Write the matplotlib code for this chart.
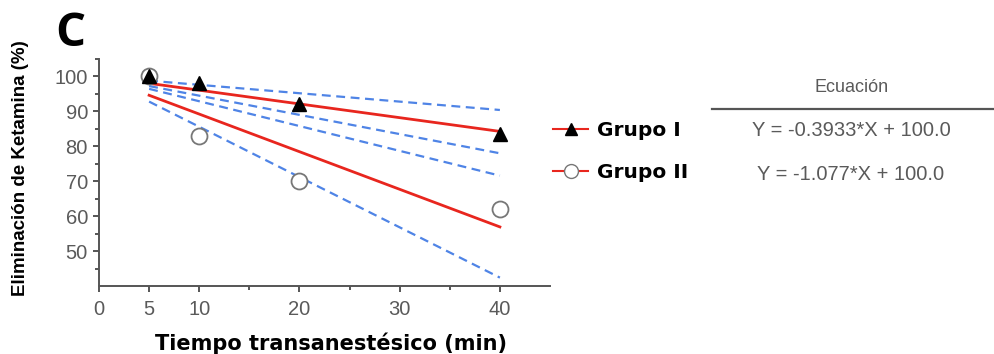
import numpy as np
import matplotlib.pyplot as plt
from matplotlib.lines import Line2D

# Datos medidos
tiempo = [5, 10, 20, 40]
grupo1 = [100, 98, 92, 83.5]
grupo2 = [100, 83, 70, 62]

# Ajustes lineales (Y = m*X + 100) y bandas de confianza de la pendiente
pendientes = [-0.3933, -1.077]
intercepto = 100.0
ic_bajo = [-0.55, -1.44]
ic_alto = [-0.24, -0.71]
grupos = ['Grupo I', 'Grupo II']

rojo = '#e8261e'
azul = '#4f84e6'
gris = '#5a5a5a'

fig = plt.figure(figsize=(9.94, 3.54), dpi=100)
ax = fig.add_axes([99/994, 68/354, 451/994, 227/354])

xs = np.array([5, 40])
for lo, hi in zip(ic_bajo, ic_alto):
    ax.plot(xs, lo*xs + intercepto, color=azul, lw=1.6, dashes=(4, 2.5), zorder=2)
    ax.plot(xs, hi*xs + intercepto, color=azul, lw=1.6, dashes=(4, 2.5), zorder=2)
for m in pendientes:
    ax.plot(xs, m*xs + intercepto, color=rojo, lw=2, zorder=3)

ax.plot(tiempo, grupo1, '^', color='black', ms=10, zorder=5, clip_on=False)
ax.plot(tiempo, grupo2, 'o', mfc='white', mec='#777777', mew=1.3, ms=11.5, zorder=4, clip_on=False)

ax.set_xlim(0, 45)
ax.set_ylim(40, 105)
ax.set_xticks([0, 5, 10, 20, 30, 40])
ax.set_xticks([15, 25, 35], minor=True)
ax.set_yticks([50, 60, 70, 80, 90, 100])
ax.set_yticks([45, 55, 65, 75, 85, 95, 105], minor=True)
for s in ['top', 'right']:
    ax.spines[s].set_visible(False)
for s in ['left', 'bottom']:
    ax.spines[s].set_color('#555555')
    ax.spines[s].set_linewidth(1.4)
ax.tick_params(which='both', direction='out', color='#555555', width=1.4, length=4,
               labelsize=14.5, labelcolor=gris)
ax.tick_params(axis='y', pad=4)
ax.tick_params(axis='x', pad=6)
ax.tick_params(which='minor', length=3)
for lab in ax.get_xticklabels() + ax.get_yticklabels():
    lab.set_family('Liberation Sans')

ax.set_ylabel('Eliminación de Ketamina (%)', fontsize=13.5, fontweight='bold',
              family='Liberation Sans')
ax.yaxis.set_label_coords(-0.155, 0.52)

fig.text(331/994, 1 - 343/354, 'Tiempo transanestésico (min)', fontsize=15, fontweight='bold',
         family='DejaVu Sans', ha='center', va='center')

fig.text(55/994, 1 - 34/354, 'C', fontsize=34, fontweight='bold', family='Open Sans',
         va='center', ha='left')

# Leyenda con ecuaciones
handles = [
    Line2D([], [], color=rojo, lw=1.5, marker='^', mfc='black', mec='black', ms=9),
    Line2D([], [], color=rojo, lw=1.5, marker='o', mfc='white', mec='#777777', ms=10),
]
fig.legend(handles, grupos, loc='upper left', bbox_to_anchor=(553/994, 1 - 121/354),
           frameon=False, borderpad=0, borderaxespad=0, handlelength=1.75,
           handletextpad=0.45, labelspacing=1.15,
           prop={'weight': 'bold', 'size': 14.5, 'family': 'DejaVu Sans'})

fig.text(852/994, 1 - 87/354, 'Ecuación', fontsize=13, color=gris, ha='center', va='center',
         family='Liberation Sans')
fig.add_artist(Line2D([712/994, 993/994], [1 - 109/354, 1 - 109/354], color='#555555', lw=1.6))
for i, m in enumerate(pendientes):
    s = f'{m:.4g}'
    fig.text(851/994, 1 - (131 + 44*i)/354, f'Y = {s}*X + {intercepto:.1f}', fontsize=14.5,
             color=gris, ha='center', va='center', family='Liberation Sans')

fig.savefig('out.png', dpi=100)
